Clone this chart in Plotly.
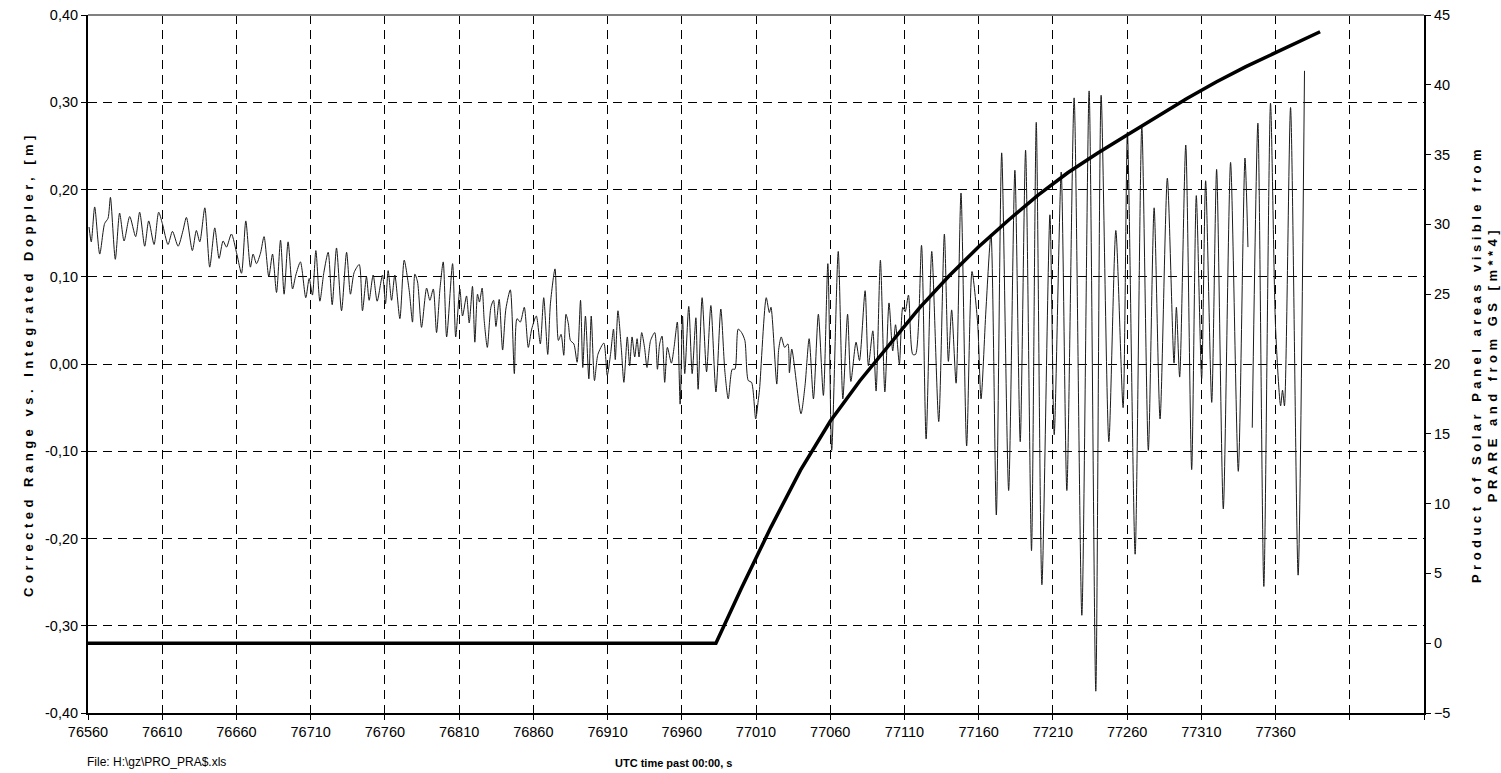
import plotly.graph_objects as go

# ---------------- data ----------------
# Thin series: Corrected Range vs. Integrated Doppler [m] (left axis)
range_t = [
    76560.7, 76562.2, 76564.5, 76567.9, 76571.2, 76573.5, 76575.1, 76578.4, 76581.3, 76584.3,
    76588.1, 76592.1, 76594.8, 76598.2, 76600.9, 76604.5, 76607.6, 76610.1, 76613.9, 76616.9,
    76620.7, 76624.0, 76626.3, 76630.3, 76633.0, 76635.3, 76638.7, 76642.0, 76645.4, 76648.3,
    76651.0, 76653.3, 76656.6, 76660.4, 76663.4, 76666.3, 76669.4, 76671.2, 76673.5, 76676.2,
    76678.6, 76681.8, 76684.3, 76687.0, 76689.7, 76692.1, 76694.8, 76697.8, 76700.0, 76703.1,
    76706.7, 76709.0, 76711.2, 76713.5, 76716.2, 76718.9, 76721.8, 76724.5, 76727.4, 76730.8,
    76734.2, 76736.8, 76739.3, 76742.7, 76744.9, 76747.6, 76749.4, 76752.1, 76754.8, 76758.4,
    76760.4, 76762.2, 76764.5, 76766.7, 76770.1, 76773.0, 76776.4, 76778.6, 76780.2, 76782.0,
    76784.7, 76788.1, 76790.3, 76792.6, 76794.8, 76797.1, 76799.3, 76801.6, 76805.6, 76807.7,
    76810.5, 76812.3, 76815.0, 76816.8, 76819.0, 76820.6, 76822.4, 76823.7, 76825.5, 76826.9,
    76829.0, 76831.4, 76833.2, 76834.8, 76837.0, 76839.3, 76841.5, 76844.5, 76847.2, 76849.0,
    76851.2, 76853.9, 76856.6, 76858.9, 76862.0, 76864.7, 76867.0, 76869.7, 76871.5, 76874.6,
    76876.9, 76878.7, 76880.5, 76882.0, 76883.6, 76885.0, 76887.3, 76889.5, 76891.8, 76893.3,
    76895.1, 76897.4, 76899.0, 76901.2, 76903.5, 76907.5, 76909.8, 76912.0, 76914.0, 76915.2,
    76917.0, 76919.3, 76921.0, 76923.3, 76924.9, 76926.5, 76928.3, 76929.9, 76931.2, 76933.0,
    76934.9, 76936.6, 76939.0, 76941.8, 76943.6, 76945.1, 76946.7, 76948.5, 76950.3, 76953.0,
    76954.8, 76957.0, 76958.9, 76960.5, 76962.0, 76964.7, 76967.0, 76969.5, 76971.0, 76973.7,
    76976.7, 76979.6, 76983.0, 76986.3, 76989.0, 76991.3, 76994.0, 76995.8, 76998.0, 77000.3,
    77002.5, 77004.8, 77007.0, 77009.8, 77011.5, 77012.4, 77016.9, 77019.0, 77020.1, 77024.0,
    77025.3, 77027.0, 77029.3, 77031.5, 77032.5, 77034.1, 77040.3, 77043.0, 77045.8, 77048.7,
    77052.0, 77055.4, 77058.4, 77061.0, 77065.4, 77068.5, 77071.7, 77073.9, 77077.4, 77079.7,
    77083.5, 77085.7, 77088.7, 77090.9, 77093.8, 77096.8, 77099.6, 77102.1, 77104.0, 77106.6,
    77108.9, 77110.5, 77112.7, 77115.6, 77117.5, 77121.5, 77124.6, 77128.4, 77133.1, 77136.9,
    77139.6, 77141.8, 77144.8, 77148.1, 77151.9, 77155.5, 77159.3, 77161.6, 77164.9, 77168.3,
    77171.9, 77175.5, 77180.2, 77184.4, 77188.0, 77191.6, 77195.6, 77198.8, 77202.6, 77208.0,
    77210.9, 77215.6, 77219.4, 77224.3, 77229.5, 77234.4, 77238.9, 77242.5, 77247.7, 77252.4,
    77257.3, 77260.2, 77265.4, 77269.9, 77274.3, 77278.2, 77282.2, 77287.1, 77291.6, 77293.2,
    77295.4, 77299.5, 77303.5, 77306.6, 77310.2, 77312.9, 77317.0, 77320.3, 77324.8, 77329.7,
    77334.9, 77339.4, 77341.4, 77342.8, 77344.3, 77348.1, 77352.1, 77356.6, 77360.0, 77363.4,
    77364.7, 77366.0, 77370.1, 77375.2, 77379.5,
]
range_m = [
    0.157, 0.140, 0.180, 0.126, 0.161, 0.167, 0.191, 0.120, 0.173, 0.141,
    0.169, 0.146, 0.174, 0.135, 0.164, 0.137, 0.174, 0.161, 0.137, 0.152,
    0.135, 0.153, 0.168, 0.130, 0.153, 0.140, 0.179, 0.111, 0.156, 0.121,
    0.141, 0.134, 0.149, 0.125, 0.104, 0.164, 0.111, 0.126, 0.115, 0.127,
    0.146, 0.100, 0.126, 0.082, 0.142, 0.080, 0.140, 0.086, 0.102, 0.117,
    0.076, 0.098, 0.079, 0.130, 0.072, 0.105, 0.128, 0.068, 0.133, 0.061,
    0.128, 0.080, 0.105, 0.114, 0.061, 0.100, 0.073, 0.102, 0.072, 0.102,
    0.069, 0.107, 0.073, 0.102, 0.052, 0.119, 0.084, 0.048, 0.103, 0.094,
    0.042, 0.087, 0.073, 0.086, 0.036, 0.086, 0.117, 0.031, 0.115, 0.031,
    0.086, 0.055, 0.078, 0.047, 0.089, 0.025, 0.080, 0.071, 0.087, 0.050,
    0.019, 0.065, 0.073, 0.043, 0.074, 0.016, 0.063, 0.085, -0.011, 0.052,
    0.048, 0.065, 0.019, 0.040, 0.055, 0.023, 0.076, 0.011, 0.069, 0.109,
    0.027, 0.034, 0.010, 0.057, 0.046, 0.027, 0.023, 0.002, 0.073, -0.004,
    0.055, -0.017, 0.055, -0.019, 0.011, 0.024, -0.013, 0.011, 0.040, 0.005,
    0.061, 0.017, -0.021, 0.031, -0.002, 0.031, 0.008, 0.029, 0.008, 0.036,
    0.019, -0.004, 0.027, 0.036, -0.006, 0.023, 0.032, -0.021, 0.019, 0.001,
    0.019, 0.048, -0.046, 0.055, -0.011, 0.066, -0.011, 0.053, -0.029, 0.076,
    -0.009, 0.067, -0.032, 0.063, -0.008, -0.040, -0.006, -0.006, 0.040, 0.036,
    0.027, -0.019, -0.021, -0.063, -0.042, -0.029, 0.076, 0.059, 0.065, -0.023,
    0.017, 0.031, 0.019, 0.023, -0.010, 0.017, -0.057, -0.025, 0.029, -0.040,
    0.057, -0.036, 0.115, -0.099, 0.129, -0.040, 0.057, -0.020, 0.025, 0.004,
    0.084, -0.002, 0.038, -0.031, 0.119, -0.032, 0.070, 0.015, 0.045, 0.000,
    0.065, 0.060, 0.079, 0.011, 0.011, 0.136, -0.086, 0.129, -0.066, 0.149,
    0.003, 0.062, -0.022, 0.196, -0.094, 0.106, 0.047, -0.040, 0.062, 0.149,
    -0.173, 0.242, -0.145, 0.222, -0.089, 0.245, -0.214, 0.277, -0.253, 0.171,
    -0.081, 0.220, -0.145, 0.305, -0.288, 0.313, -0.375, 0.308, -0.089, 0.153,
    -0.050, 0.266, -0.218, 0.273, -0.099, 0.179, -0.063, 0.213, 0.001, 0.065,
    -0.015, 0.251, -0.121, 0.193, -0.017, 0.210, -0.044, 0.223, -0.166, 0.231,
    -0.123, 0.236, 0.134, None, -0.073, 0.276, -0.255, 0.299, 0.042, -0.048,
    -0.030, -0.048, 0.294, -0.242, 0.336,
]

# Thick series: product of solar panel areas [m**4] (right axis)
panel_t = [76560, 76983, 77000, 77020, 77040, 77060, 77080, 77100, 77120, 77140,
           77160, 77180, 77200, 77220, 77240, 77260, 77280, 77300, 77320, 77340,
           77360, 77380, 77390]
panel_v = [0, 0, 3.9, 8.3, 12.4, 15.9, 18.8, 21.4, 24.0, 26.3,
           28.4, 30.3, 32.1, 33.7, 35.1, 36.4, 37.7, 39.0, 40.2, 41.3,
           42.3, 43.3, 43.8]

x_ticks = list(range(76560, 77461, 50))
x_ticktext = [str(v) if v <= 77360 else "" for v in x_ticks]
y_ticks = [-0.4, -0.3, -0.2, -0.1, 0.0, 0.1, 0.2, 0.3, 0.4]
y_ticktext = ["-0,40", "-0,30", "-0,20", "-0,10", "0,00", "0,10", "0,20", "0,30", "0,40"]
y2_ticks = [-5, 0, 5, 10, 15, 20, 25, 30, 35, 40, 45]

FONT = "Liberation Sans, Arial, sans-serif"
SPACED = '<span style="letter-spacing:4.5px">{}</span>'

fig = go.Figure()
fig.add_trace(go.Scatter(
    x=range_t, y=range_m, mode="lines", yaxis="y",
    line=dict(color="#1a1a1a", width=1, shape="spline", smoothing=0.7),
    connectgaps=False, showlegend=False,
    name="Corrected Range vs. Integrated Doppler",
))
fig.add_trace(go.Scatter(
    x=panel_t, y=panel_v, mode="lines", yaxis="y2",
    line=dict(color="black", width=3.5),
    showlegend=False, name="Product of Solar Panel areas",
))

grid = dict(showgrid=True, gridcolor="black", gridwidth=1, griddash="9px,6px")

fig.update_layout(
    width=1501, height=773,
    margin=dict(l=88, r=77, t=15, b=60, autoexpand=False),
    paper_bgcolor="white", plot_bgcolor="white",
    font=dict(family=FONT, size=14, color="black"),
    xaxis=dict(
        range=[76560, 77460], tickmode="array", tickvals=x_ticks, ticktext=x_ticktext,
        ticks="outside", ticklen=5, tickcolor="black", showline=True, linecolor="black",
        linewidth=2, zeroline=False, tickfont=dict(size=14.5), automargin=False, **grid,
    ),
    yaxis=dict(
        range=[-0.4, 0.4], tickmode="array", tickvals=y_ticks, ticktext=y_ticktext,
        ticks="outside", ticklen=5, tickcolor="black", showline=True, linecolor="black",
        linewidth=2, zeroline=False, tickfont=dict(size=14.5), automargin=False,
        title=dict(text=SPACED.format("<b>Corrected Range vs. Integrated Doppler, [m]</b>"),
                   font=dict(size=13), standoff=8),
        **grid,
    ),
    yaxis2=dict(
        range=[-5, 45], tickmode="array", tickvals=y2_ticks, overlaying="y", side="right",
        ticks="outside", ticklen=5, tickcolor="black", showline=True, linecolor="black",
        linewidth=2, zeroline=False, showgrid=False, tickfont=dict(size=14.5),
        automargin=False,
        title=dict(text=SPACED.format("<b>Product of Solar Panel areas visible from</b>")
                   + "<br>" + SPACED.format("<b>PRARE and from GS [m**4]</b>"),
                   font=dict(size=13), standoff=22),
    ),
    shapes=[dict(type="line", xref="paper", yref="paper", x0=0, x1=1, y0=1, y1=1,
                 line=dict(color="#808080", width=2), layer="above")],
    annotations=[
        dict(text="<b>UTC time past 00:00, s</b>", xref="paper", yref="paper",
             x=0.438, y=-0.072, xanchor="center", yanchor="middle", showarrow=False,
             font=dict(size=11)),
        dict(text="File: H:\\gz\\PRO_PRA$.xls", xref="paper", yref="paper",
             x=-0.002, y=-0.07, xanchor="left", yanchor="middle", showarrow=False,
             font=dict(size=12)),
    ],
)

fig.write_html("out.html")
